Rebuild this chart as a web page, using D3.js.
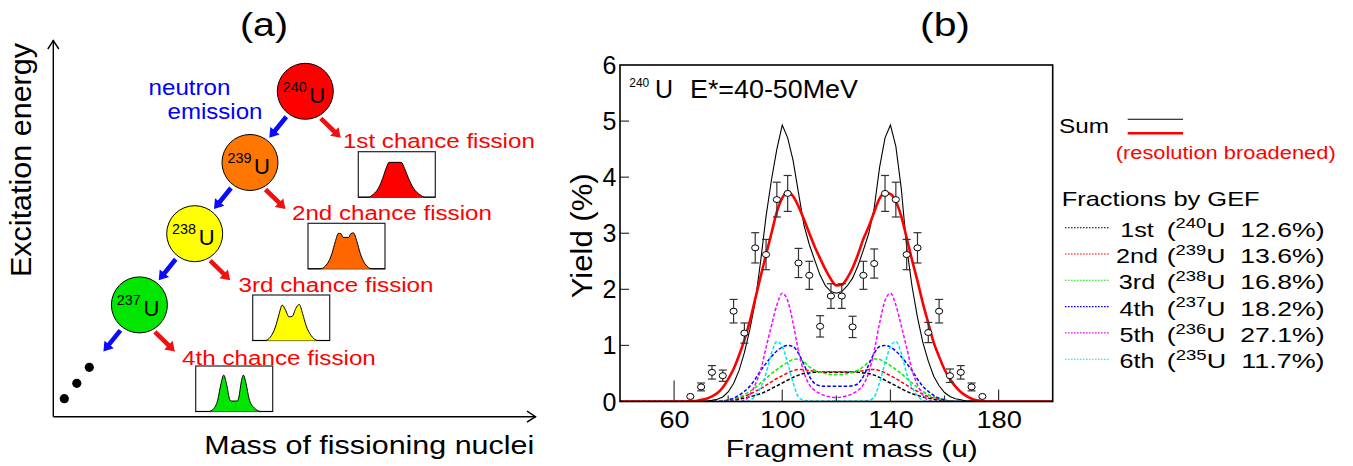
<!DOCTYPE html>
<html><head><meta charset="utf-8">
<script src="https://cdn.jsdelivr.net/npm/d3@7"></script>
<style>
body{margin:0;background:#fff}
svg{display:block}
text{font-family:"Liberation Sans",Arial,Helvetica,sans-serif;white-space:pre}
</style>
</head><body>
<svg id="chart" width="1353" height="466"></svg>
<script>
// ---------------- data: panel (a) ----------------
const nuclei = ["240", "239", "238", "237"];
const nucleusColors = ["#ff0000", "#ff7700", "#ffff00", "#00e600"];
const chanceLabels = ["1st chance fission", "2nd chance fission", "3rd chance fission", "4th chance fission"];
const insetColors = ["#ff0000", "#ff6600", "#ffff00", "#00e600"];
// normalised inset mass distributions [fraction across, fraction of height]
const insetShape1 = [[0.13,0],[0.196,0.066],[0.261,0.197],[0.317,0.416],[0.361,0.635],[0.4,0.766],[0.557,0.766],[0.6,0.635],[0.652,0.416],[0.717,0.197],[0.804,0.051],[0.87,0]];
const insetShape2 = [[0.16,0],[0.25,0.11],[0.31,0.33],[0.355,0.6],[0.395,0.78],[0.43,0.77],[0.455,0.69],[0.53,0.69],[0.555,0.77],[0.59,0.79],[0.635,0.6],[0.68,0.33],[0.74,0.11],[0.83,0]];
const insetShape3 = [[0.163,0],[0.229,0.074],[0.295,0.296],[0.339,0.556],[0.383,0.778],[0.427,0.667],[0.471,0.519],[0.515,0.533],[0.559,0.704],[0.604,0.793],[0.648,0.593],[0.692,0.333],[0.758,0.111],[0.846,0]];
const insetShape4 = [[0.167,0],[0.232,0.059],[0.285,0.244],[0.329,0.615],[0.364,0.8],[0.399,0.615],[0.443,0.259],[0.461,0.23],[0.539,0.23],[0.561,0.319],[0.592,0.652],[0.618,0.8],[0.654,0.615],[0.693,0.281],[0.759,0.081],[0.846,0]];

// ---------------- data: panel (b) ----------------
const curveMass = [64,66,68,70,72,74,76,78,80,82,84,86,88,90,92,94,96,98,100,102,104,106,108,110,112,114,116,118,120,
  122,124,126,128,130,132,134,136,138,140,142,144,146,148,150,152,154,156,158,160,162,164,166,168,170,172,174,176];
const sumRaw = [0,0,0,0.01,0.01,0.02,0.04,0.08,0.17,0.32,0.55,0.87,1.28,1.78,2.5,3.3,3.95,4.5,4.93,4.7,4.3,3.72,3.15,2.8,2.52,2.25,2.06,1.96,1.93,
  1.96,2.06,2.2,2.42,2.7,3.0,3.45,4.18,4.7,4.93,4.55,3.8,2.75,2.05,1.5,1.05,0.72,0.45,0.28,0.16,0.09,0.05,0.03,0.01,0.01,0,0,0];
const sumBroadened = [0,0.01,0.01,0.03,0.05,0.09,0.15,0.25,0.4,0.58,0.82,1.1,1.43,1.83,2.23,2.62,3.0,3.38,3.63,3.74,3.66,3.48,3.25,3.0,2.76,2.55,2.35,2.18,2.07,
  2.08,2.2,2.38,2.62,2.9,3.12,3.38,3.62,3.72,3.7,3.57,3.3,2.92,2.52,2.15,1.75,1.4,1.05,0.8,0.57,0.4,0.27,0.17,0.1,0.05,0.02,0.01,0];
const frac1st = [0,0,0,0,0,0,0,0.01,0.01,0.02,0.04,0.06,0.08,0.11,0.14,0.18,0.23,0.28,0.33,0.38,0.43,0.47,0.5,0.51,0.52,0.52,0.52,0.52,0.52,
  0.52,0.52,0.52,0.52,0.51,0.5,0.47,0.43,0.38,0.33,0.28,0.23,0.18,0.14,0.11,0.08,0.06,0.04,0.02,0.01,0.01,0,0,0,0,0,0,0];
const frac2nd = [0,0,0,0,0,0,0,0.01,0.02,0.04,0.06,0.09,0.13,0.18,0.23,0.29,0.35,0.41,0.46,0.51,0.55,0.57,0.57,0.55,0.54,0.53,0.53,0.53,0.53,
  0.53,0.53,0.53,0.54,0.55,0.57,0.57,0.55,0.51,0.46,0.41,0.35,0.29,0.23,0.18,0.13,0.09,0.06,0.04,0.02,0.01,0,0,0,0,0,0,0];
const frac3rd = [0,0,0,0,0,0,0,0.01,0.03,0.05,0.08,0.12,0.18,0.25,0.33,0.41,0.5,0.57,0.64,0.7,0.75,0.76,0.71,0.62,0.56,0.52,0.5,0.48,0.48,
  0.48,0.5,0.52,0.56,0.62,0.71,0.76,0.75,0.7,0.64,0.57,0.5,0.41,0.33,0.25,0.18,0.12,0.08,0.05,0.03,0.01,0,0,0,0,0,0,0];
const frac4th = [0,0,0,0,0,0,0,0,0.03,0.06,0.11,0.18,0.27,0.4,0.55,0.68,0.8,0.9,0.97,1.0,0.98,0.86,0.66,0.45,0.32,0.28,0.27,0.27,0.27,
  0.27,0.27,0.28,0.32,0.45,0.66,0.86,0.98,1.0,0.97,0.9,0.8,0.68,0.55,0.4,0.27,0.18,0.11,0.06,0.03,0,0,0,0,0,0,0,0];
const frac5th = [0,0,0,0,0,0,0,0,0,0,0,0.02,0.12,0.3,0.56,0.96,1.35,1.72,1.93,1.8,1.4,0.9,0.52,0.3,0.2,0.14,0.1,0.08,0.07,
  0.08,0.1,0.14,0.2,0.3,0.52,0.9,1.4,1.8,1.93,1.72,1.35,0.96,0.56,0.3,0.12,0.02,0,0,0,0,0,0,0,0,0,0,0];
const frac6th = [0,0,0,0,0,0,0,0,0,0,0,0,0.02,0.1,0.25,0.5,0.86,1.07,0.98,0.68,0.34,0.08,0.02,0.01,0.01,0.01,0.01,0.01,0.01,
  0.01,0.01,0.01,0.01,0.01,0.02,0.08,0.34,0.68,0.98,1.07,0.86,0.5,0.25,0.1,0.02,0,0,0,0,0,0,0,0,0,0,0,0];
const fractionSeries = [frac1st, frac2nd, frac3rd, frac4th, frac5th, frac6th];
const fractionColors = ["#000000", "#ff0000", "#00ee00", "#0000ff", "#ff00ff", "#00e5ee"];
const fractionOrdinals = ["1st", "2nd", "3rd", "4th", "5th", "6th"];
const fractionNuclei = ["240", "239", "238", "237", "236", "235"];
const fractionPercents = ["12.6%", "13.6%", "16.8%", "18.2%", "27.1%", "11.7%"];

const expMass  = [66,70,74,78,82,86,90,94,98,102,106,110,114,118,122,126,130,134,138,142,146,150,154,158,162,166,170,174];
const expYield = [0.09,0.26,0.52,0.46,1.61,1.22,2.74,2.62,3.60,3.71,2.47,2.25,1.34,1.88,1.88,1.33,2.25,2.46,3.71,3.60,2.62,2.74,1.23,1.61,0.46,0.52,0.26,0.09];
const expError = [0,0.07,0.12,0.10,0.21,0.18,0.27,0.27,0.31,0.32,0.26,0.25,0.19,0.22,0.22,0.19,0.25,0.26,0.32,0.31,0.27,0.27,0.18,0.21,0.12,0.12,0.07,0];

const xMajorTicks = [60, 100, 140, 180];
const xMinorTicks = [80, 120, 160];
const yTicks = [0, 1, 2, 3, 4, 5, 6];

// ---------------- helpers ----------------
const svg = d3.select("#chart");
const FONT = '"Liberation Sans",Arial,sans-serif';

function label(parent, x, y, content, size, opts = {}) {
  let tr = `translate(${x},${y})`;
  if (opts.rotate) tr += ` rotate(${opts.rotate})`;
  const g = parent.append("g").attr("transform", tr);
  const t = g.append("text").attr("font-size", size)
    .attr("text-anchor", opts.anchor || "start")
    .attr("fill", opts.fill || "#000");
  if (Array.isArray(content)) {
    content.forEach(seg => {
      const ts = t.append("tspan").text(seg.t);
      if (seg.size) ts.attr("font-size", seg.size);
      if (seg.dy) ts.attr("dy", seg.dy);
      if (seg.dx) ts.attr("dx", seg.dx);
    });
  } else t.text(content);
  if (opts.width) {
    const w = t.node().getComputedTextLength();
    if (w > 0) t.attr("transform", `scale(${opts.width / w},1)`);
  } else if (opts.sx) {
    t.attr("transform", `scale(${opts.sx},1)`);
  }
  return t;
}

function arrow(parent, x1, y1, x2, y2, color) {
  const dx = x2 - x1, dy = y2 - y1, L = Math.hypot(dx, dy);
  const ux = dx / L, uy = dy / L, nx = -uy, ny = ux;
  const sh = 2.3, hw = 6, hl = 9;
  const bx = x2 - ux * hl, by = y2 - uy * hl;
  const pts = [
    [x1 + nx * sh, y1 + ny * sh], [bx + nx * sh, by + ny * sh], [bx + nx * hw, by + ny * hw],
    [x2, y2], [bx - nx * hw, by - ny * hw], [bx - nx * sh, by - ny * sh], [x1 - nx * sh, y1 - ny * sh]
  ];
  parent.append("polygon").attr("points", pts.map(p => p.join(",")).join(" ")).attr("fill", color);
}

// ================= PANEL (a) =================
const pa = svg.append("g");
label(pa, 264, 36, "(a)", 34, {anchor: "middle", width: 48});

// axes with open arrow heads
const axA = {x0: 53.3, y0: 416.7, xEnd: 536, yEnd: 40};
pa.append("line").attr("x1", axA.x0).attr("y1", axA.y0).attr("x2", axA.x0).attr("y2", axA.yEnd)
  .attr("stroke", "#000").attr("stroke-width", 1.4);
pa.append("line").attr("x1", axA.x0).attr("y1", axA.y0).attr("x2", axA.xEnd).attr("y2", axA.y0)
  .attr("stroke", "#000").attr("stroke-width", 1.4);
pa.append("polyline").attr("points", `${axA.x0-5.5},${axA.yEnd+9} ${axA.x0},${axA.yEnd+0.5} ${axA.x0+5.5},${axA.yEnd+9}`)
  .attr("fill", "none").attr("stroke", "#000").attr("stroke-width", 1.4);
pa.append("polyline").attr("points", `${axA.xEnd-9},${axA.y0-5.5} ${axA.xEnd-0.5},${axA.y0} ${axA.xEnd-9},${axA.y0+5.5}`)
  .attr("fill", "none").attr("stroke", "#000").attr("stroke-width", 1.4);

label(pa, 30.5, 160, "Excitation energy", 30, {anchor: "middle", rotate: -90, width: 234});
label(pa, 204.3, 454, "Mass of fissioning nuclei", 26.5, {width: 330});
label(pa, 148.5, 95, "neutron", 22, {fill: "#0000ff", width: 82});
label(pa, 167.5, 119.3, "emission", 22, {fill: "#0000ff", width: 95});

// cascade layout
const circ0 = {x: 305.3, y: 91.3}, circStep = {x: -55.3, y: 71.2}, circR = 28;
const labelStart = [[342.9, 148.3], [292, 220], [238.6, 292.3], [182, 365]];
const labelWidth = [192, 200, 195, 194];
const insetPos = [[358.3, 151.7], [308, 223.3], [252.7, 295], [195.7, 366]];
const insetW = 77, insetH = 45.5;
const insetShapes = [insetShape1, insetShape2, insetShape3, insetShape4];

nuclei.forEach((A, i) => {
  const cx = circ0.x + i * circStep.x, cy = circ0.y + i * circStep.y;
  // arrows
  arrow(pa, cx - 19, cy + 25.5, cx - 36, cy + 46.5, "#0a0aff");
  arrow(pa, cx + 15.5, cy + 27, cx + 35.5, cy + 46.5, "#f01010");
  pa.append("circle").attr("cx", cx).attr("cy", cy).attr("r", circR)
    .attr("fill", nucleusColors[i]).attr("stroke", "#000").attr("stroke-width", 1);
  label(pa, cx - 22.6, cy + 0.3, A, 15, {width: 24});
  label(pa, cx + 4, cy + 11.3, "U", 22);
  label(pa, labelStart[i][0], labelStart[i][1], chanceLabels[i], 21, {fill: "#ff0000", width: labelWidth[i]});

  // inset distribution
  const [bx, by] = insetPos[i];
  const sx = d3.scaleLinear().domain([0, 1]).range([bx, bx + insetW]);
  const sy = d3.scaleLinear().domain([0, 1]).range([by + insetH, by]);
  const pts = [[0, 0], ...insetShapes[i], [1, 0]];
  pa.append("rect").attr("x", bx).attr("y", by).attr("width", insetW).attr("height", insetH)
    .attr("fill", "#fff").attr("stroke", "#222").attr("stroke-width", 1.2);
  pa.append("path").datum(pts)
    .attr("d", d3.area().x(d => sx(d[0])).y0(sy(0)).y1(d => sy(d[1])).curve(d3.curveMonotoneX))
    .attr("fill", insetColors[i]);
  pa.append("path").datum(pts)
    .attr("d", d3.line().x(d => sx(d[0])).y(d => sy(d[1])).curve(d3.curveMonotoneX))
    .attr("fill", "none").attr("stroke", "#000").attr("stroke-width", 1);
});
// continuation dots
[[89.3, 367.3], [76.8, 383.3], [64.3, 398.7]].forEach(p =>
  pa.append("circle").attr("cx", p[0]).attr("cy", p[1]).attr("r", 4.6).attr("fill", "#000"));

// ================= PANEL (b) =================
const pb = svg.append("g");
label(pb, 945, 36, "(b)", 34, {anchor: "middle", width: 50});

const plot = {left: 620, right: 1052.7, top: 65, bottom: 401.5};
const x = d3.scaleLinear().domain([40, 200]).range([plot.left, plot.right]);
const y = d3.scaleLinear().domain([0, 6]).range([plot.bottom, plot.top]);

const clip = pb.append("clipPath").attr("id", "plotclip").append("rect")
  .attr("x", plot.left).attr("y", plot.top).attr("width", plot.right - plot.left).attr("height", plot.bottom - plot.top);

// ticks (inward)
pb.selectAll(".xmaj").data(xMajorTicks).join("line")
  .attr("x1", d => x(d)).attr("x2", d => x(d)).attr("y1", plot.bottom).attr("y2", d => plot.bottom - (d === 60 ? 21 : 12))
  .attr("stroke", "#333").attr("stroke-width", 1.2);
pb.selectAll(".xmin").data(xMinorTicks).join("line")
  .attr("x1", d => x(d)).attr("x2", d => x(d)).attr("y1", plot.bottom).attr("y2", plot.bottom - 6)
  .attr("stroke", "#333").attr("stroke-width", 1.2);
pb.selectAll(".ytk").data(yTicks.filter(d => d > 0 && d < 6)).join("line")
  .attr("x1", plot.left).attr("x2", plot.left + 9).attr("y1", d => y(d)).attr("y2", d => y(d))
  .attr("stroke", "#333").attr("stroke-width", 1.2);

yTicks.forEach(v => label(pb, plot.left - 3.5, y(v) + 9, String(v), 25, {anchor: "end"}));
xMajorTicks.forEach(v => label(pb, x(v) + 0.5, 428.3, String(v), 23, {anchor: "middle", width: String(v).length === 2 ? 30 : 45.5}));

label(pb, 592, 235.8, "Yield (%)", 30, {anchor: "middle", rotate: -90, width: 125});
label(pb, 851.8, 456.7, "Fragment mass (u)", 23, {anchor: "middle", width: 252});

// curves
const curveG = pb.append("g").attr("clip-path", "url(#plotclip)");
function seriesPts(vals) {
  return [[40, 0], ...curveMass.map((m, i) => [m, vals[i]]), [200, 0]];
}
const lineGen = d3.line().x(d => x(d[0])).y(d => y(d[1]));
const smoothGen = d3.line().x(d => x(d[0])).y(d => y(d[1])).curve(d3.curveMonotoneX);

fractionSeries.forEach((s, i) => {
  curveG.append("path").datum(seriesPts(s)).attr("d", smoothGen)
    .attr("fill", "none").attr("stroke", fractionColors[i]).attr("stroke-width", 1.5)
    .attr("stroke-dasharray", "3.5,2");
});
curveG.append("path").datum(seriesPts(sumRaw)).attr("d", lineGen)
  .attr("fill", "none").attr("stroke", "#000").attr("stroke-width", 1.1);
curveG.append("path").datum(seriesPts(sumBroadened)).attr("d", smoothGen)
  .attr("fill", "none").attr("stroke", "#ff0000").attr("stroke-width", 2.6);

// experimental points
const ptsG = pb.append("g");
expMass.forEach((m, i) => {
  const cx = x(m), e = expError[i];
  if (e > 0) {
    const yt = y(expYield[i] + e), yb = y(expYield[i] - e);
    ptsG.append("line").attr("x1", cx).attr("x2", cx).attr("y1", yt).attr("y2", yb).attr("stroke", "#333").attr("stroke-width", 1.2);
    ptsG.append("line").attr("x1", cx - 4).attr("x2", cx + 4).attr("y1", yt).attr("y2", yt).attr("stroke", "#333").attr("stroke-width", 1.2);
    ptsG.append("line").attr("x1", cx - 4).attr("x2", cx + 4).attr("y1", yb).attr("y2", yb).attr("stroke", "#333").attr("stroke-width", 1.2);
  }
  ptsG.append("ellipse").attr("cx", cx).attr("cy", y(expYield[i])).attr("rx", 3.6).attr("ry", 3)
    .attr("fill", "#fff").attr("stroke", "#000").attr("stroke-width", 1);
});

// frame
pb.append("rect").attr("x", plot.left).attr("y", plot.top).attr("width", plot.right - plot.left).attr("height", plot.bottom - plot.top)
  .attr("fill", "none").attr("stroke", "#000").attr("stroke-width", 1.6);

// title inside plot
label(pb, 629.3, 86.7, "240", 12, {width: 20});
label(pb, 655, 98.3, "U", 25);
label(pb, 690, 98.3, "E*=40-50MeV", 25, {width: 168});

// legend
const lg = pb.append("g");
label(lg, 1059, 133, "Sum", 21, {width: 50});
lg.append("line").attr("x1", 1127.7).attr("x2", 1183).attr("y1", 119.3).attr("y2", 119.3).attr("stroke", "#000").attr("stroke-width", 1.1);
lg.append("line").attr("x1", 1127.7).attr("x2", 1183).attr("y1", 133.3).attr("y2", 133.3).attr("stroke", "#ff0000").attr("stroke-width", 2.6);
label(lg, 1115.7, 159.3, "(resolution broadened)", 18.5, {fill: "#ff0000", width: 220});
label(lg, 1061.7, 206, "Fractions by GEF", 21, {width: 198});

fractionOrdinals.forEach((o, i) => {
  const ly = 227.7 + i * 26.3;
  lg.append("line").attr("x1", 1065).attr("x2", 1110).attr("y1", ly).attr("y2", ly)
    .attr("stroke", fractionColors[i]).attr("stroke-width", 1.1).attr("stroke-dasharray", "1.6,1.4");
  label(lg, 1137, ly + 9, o, 21, {anchor: "middle", sx: 1.2});
  label(lg, 1166.7, ly + 9, [
    {t: "("},
    {t: fractionNuclei[i], size: 14.5, dy: -8.4},
    {t: "U", size: 21, dy: 8.4},
    {t: "\u00a0\u00a0" + fractionPercents[i] + ")"}
  ], 21, {width: 158});
});
</script>
</body></html>
